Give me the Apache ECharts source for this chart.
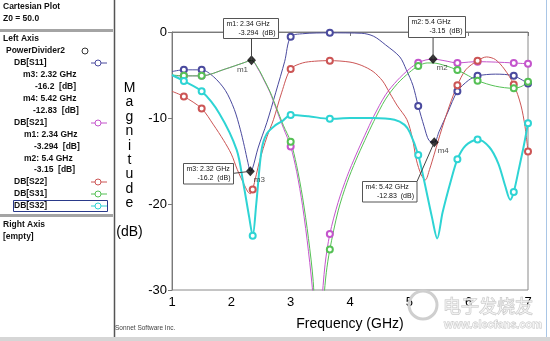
<!DOCTYPE html>
<html><head><meta charset="utf-8">
<script src="https://cdn.jsdelivr.net/npm/echarts@6/dist/echarts.min.js"></script>
<style>html,body{margin:0;padding:0;background:#fff}#c{width:550px;height:341px}</style>
</head><body><div id="c"></div>
<script>
// ---- data ----
const s11F = [1.0,1.2,1.5,1.7,1.9,2.05,2.15,2.22,2.28,2.32,2.36,2.45,2.6,2.75,2.9,3.0,3.2,3.66,4.2,4.4,4.6,4.84,4.95,5.06,5.15,5.25,5.33,5.42,5.5,5.65,5.81,6.0,6.15,6.45,6.76,7.0];
const s11V = [-4.6,-4.4,-4.4,-5.2,-6.8,-9.0,-11.3,-13.3,-15.2,-16.2,-15.8,-13.5,-10.5,-7.0,-3.4,-0.55,-0.2,-0.1,-0.15,-0.5,-1.5,-2.9,-4.4,-6.2,-8.6,-11.0,-12.6,-12.83,-11.6,-9.3,-6.9,-5.6,-5.1,-4.9,-5.1,-6.0];

const s21F = [1.0,1.2,1.5,1.9,2.2,2.34,2.45,2.55,2.65,2.76,2.88,3.0,3.1,3.2,3.3,3.38,3.45,3.52,3.58,3.66,3.8,3.95,4.1,4.25,4.4,4.6,4.8,5.0,5.15,5.28,5.4,5.6,5.81,6.0,6.15,6.45,6.76,7.0];
const s21V = [-5.1,-5.1,-5.1,-4.3,-3.6,-3.294,-4.3,-5.6,-7.0,-9.0,-11.2,-13.3,-16.2,-20.2,-25.5,-31,-40,-32,-27,-23.5,-19.8,-16.8,-14.3,-12.0,-9.8,-7.3,-5.6,-4.3,-3.57,-3.25,-3.15,-3.35,-3.6,-3.5,-3.45,-3.5,-3.6,-3.7];

const s22F = [1.0,1.2,1.5,1.7,1.87,2.0,2.1,2.2,2.28,2.32,2.36,2.48,2.6,2.71,2.85,3.0,3.2,3.4,3.66,4.0,4.2,4.39,4.55,4.67,4.8,4.96,5.05,5.12,5.2,5.27,5.34,5.42,5.55,5.68,5.81,5.95,6.15,6.3,6.45,6.6,6.76,6.88,6.95,7.0];
const s22V = [-6.9,-7.5,-8.9,-10.8,-12.6,-14.2,-16.0,-17.5,-18.6,-18.8,-18.3,-14.9,-12.2,-10.2,-7.0,-4.3,-3.6,-3.4,-3.33,-3.5,-3.9,-4.6,-5.7,-7.1,-8.6,-10.2,-12.3,-14.9,-16.6,-17.2,-16.0,-14.2,-11.2,-8.5,-6.2,-4.4,-3.33,-2.9,-3.2,-4.3,-6.1,-8.5,-11.0,-13.9];

const s31F = [1.0,1.2,1.5,1.9,2.2,2.34,2.45,2.55,2.65,2.76,2.88,3.0,3.1,3.2,3.3,3.38,3.47,3.56,3.6,3.66,3.8,3.95,4.1,4.25,4.4,4.6,4.8,5.0,5.15,5.3,5.4,5.6,5.81,6.0,6.15,6.45,6.76,6.9,7.0];
const s31V = [-5.0,-5.1,-5.1,-4.3,-3.6,-3.3,-4.2,-5.5,-6.9,-8.8,-10.9,-12.75,-15.5,-19.2,-24.0,-29.0,-40,-31,-28,-25.3,-20.8,-17.5,-14.9,-12.6,-10.4,-7.8,-6.0,-4.7,-3.95,-3.6,-3.6,-3.9,-4.42,-5.1,-5.66,-6.3,-6.55,-6.3,-5.78];

const s32F = [1.0,1.2,1.5,1.8,2.09,2.2,2.3,2.36,2.42,2.51,2.6,2.75,2.87,3.0,3.3,3.66,4.0,4.39,4.75,4.92,5.01,5.15,5.25,5.38,5.47,5.56,5.7,5.81,5.95,6.15,6.35,6.5,6.62,6.7,6.76,6.85,6.93,7.0];
const s32V = [-5.0,-5.7,-6.9,-9.5,-13.7,-17.5,-21.5,-23.7,-20.0,-13.7,-11.8,-10.8,-10.3,-9.65,-9.8,-10.1,-10.0,-10.0,-10.2,-10.8,-11.7,-14.3,-17.3,-21.5,-24.0,-21.0,-17.3,-14.8,-13.2,-12.5,-13.4,-15.3,-18.0,-19.5,-18.6,-15.8,-13.2,-10.6];

const simF = [1.2,1.5,2.36,3.0,3.66,5.15,5.81,6.15,6.76,7.0];
const xTicks = [1,2,3,4,5,6,7];
const yTicks = [0,-10,-20,-30];
const mNames = ['m1','m2','m3','m4'];
const mF = [2.34,5.4,2.32,5.42];
const mV = [-3.294,-3.15,-16.2,-12.83];
const mFText = ['2.34 GHz','5.4 GHz','2.32 GHz','5.42 GHz'];
const mVText = ['-3.294','-3.15','-16.2','-12.83'];
const seriesNames = ['DB[S11]','DB[S21]','DB[S22]','DB[S31]','DB[S32]'];
const colors = ['#4a4a9e','#c455cc','#cc5555','#55c055','#2ed4d4'];

// ---- chart ----
const chart = echarts.init(document.getElementById('c'), null, {renderer:'canvas'});
const FF = 'Liberation Sans, Arial, sans-serif';

function mkSeries(name, F, V, color, width, skip) {
  return {
    type:'line', name, smooth:0.3, animation:false, clip:true,
    lineStyle:{width, color}, symbolSize:6,
    itemStyle:{color:color, borderColor:color, borderWidth:1},
    data: F.map((f,i)=>({value:[f,V[i]],
      symbol:(simF.includes(f) && !skip.includes(f)) ? 'emptyCircle' : 'none'}))
  };
}
const series = [
  mkSeries(seriesNames[0], s11F, s11V, colors[0], 1, [2.36]),
  mkSeries(seriesNames[1], s21F, s21V, colors[1], 1, [2.36]),
  mkSeries(seriesNames[2], s22F, s22V, colors[2], 1, []),
  mkSeries(seriesNames[3], s31F, s31V, colors[3], 1, [2.36]),
  mkSeries(seriesNames[4], s32F, s32V, colors[4], 2, []),
];
const lblOff = [[-9,9],[9,9],[9,8],[9,8]];
series.push({
  type:'scatter', name:'markers', animation:false, z:10,
  symbol:'diamond', symbolSize:[9,10], itemStyle:{color:'#000'},
  data: mF.map((f,i)=>({value:[f,mV[i]], name:mNames[i],
    label:{show:true, position:'inside', offset:lblOff[i], formatter:mNames[i],
      fontSize:8, fontFamily:FF, color:'#222'}}))
});

chart.setOption({
  animation:false,
  grid:{left:172, right:22, top:32, bottom:51, show:true, borderColor:'#8a8a8a', borderWidth:1, backgroundColor:'#fff'},
  xAxis:{type:'value', min:xTicks[0], max:xTicks[xTicks.length-1], interval:1,
    axisLine:{lineStyle:{color:'#7a7a7a'}}, axisTick:{show:true, length:4, lineStyle:{color:'#7a7a7a'}},
    axisLabel:{fontSize:13, fontFamily:FF, color:'#000', margin:6},
    splitLine:{show:false}},
  yAxis:{type:'value', min:yTicks[yTicks.length-1], max:yTicks[0], interval:10,
    axisLine:{show:true, lineStyle:{color:'#7a7a7a'}}, axisTick:{show:true, length:4, lineStyle:{color:'#7a7a7a'}},
    axisLabel:{fontSize:13, fontFamily:FF, color:'#000', margin:5},
    splitLine:{show:false}},
  series
});

// ---- annotation boxes & decorations ----
const P = mF.map((f,i)=>chart.convertToPixel({gridIndex:0}, [f, mV[i]]));
const g = [];
const boxDef = [ // dx, dy of box top-left relative to marker, w, h
  [-28.5,-42.5,55,20],[-25.5,-43.5,57,21],[-67.5,-8.5,50,20.5],[-72.5,38.5,54.5,20.5]
];
boxDef.forEach((b,i)=>{
  const [px,py] = P[i];
  const x = Math.round(px+b[0])+0.5, y = Math.round(py+b[1])+0.5, w=b[2], h=b[3];
  // leader line
  let l;
  if (i<2) l = [px, y+h, px, py];
  else if (i===2) l = [x+w, py+2, px, py];
  else l = [x+w, y, px, py];
  g.push({type:'line', z:50, shape:{x1:l[0],y1:l[1],x2:l[2],y2:l[3]}, style:{stroke:'#444', lineWidth:1}});
  g.push({type:'rect', z:60, shape:{x, y, width:w, height:h}, style:{fill:'#fff', stroke:'#555', lineWidth:1}});
  g.push({type:'text', z:61, x:x+3, y:y+6, style:{text:mNames[i]+': '+mFText[i], fontSize:7, fontFamily:FF, fill:'#111', verticalAlign:'middle'}});
  g.push({type:'text', z:61, x:x+w-3, y:y+15, style:{text:mVText[i]+'  (dB)', fontSize:7, fontFamily:FF, fill:'#111', align:'right', verticalAlign:'middle'}});
});

// y axis name (stacked letters)
g.push({type:'text', z:5, x:129.5, y:81, style:{text:'M\na\ng\nn\ni\nt\nu\nd\ne\n\n(dB)', lineHeight:14.4, fontSize:14, fontFamily:FF, fill:'#000', align:'center'}});
// x axis name
g.push({type:'text', z:5, x:350, y:324, style:{text:'Frequency (GHz)', fontSize:14, fontFamily:FF, fill:'#000', align:'center', verticalAlign:'middle'}});
g.push({type:'text', z:5, x:115, y:328, style:{text:'Sonnet Software Inc.', fontSize:6.5, fontFamily:FF, fill:'#444', verticalAlign:'middle'}});

// left panel
g.push({type:'rect', z:1, shape:{x:0,y:0,width:113,height:337}, style:{fill:'#fff'}});
g.push({type:'line', z:2, shape:{x1:114.5,y1:0,x2:114.5,y2:337}, style:{stroke:'#555', lineWidth:1.5}});
g.push({type:'rect', z:2, shape:{x:0,y:29,width:113,height:3}, style:{fill:'#a4a4a4'}});
g.push({type:'rect', z:2, shape:{x:0,y:214,width:113,height:3}, style:{fill:'#a4a4a4'}});
const panel = [
  ['Cartesian Plot',3,7],['Z0 = 50.0',3,19],['Left Axis',3,39],['PowerDivider2',6,51],
  [seriesNames[0],14,63],['m3: 2.32 GHz',23,75],['-16.2  [dB]',35,87],['m4: 5.42 GHz',23,99],['-12.83  [dB]',33,111],
  [seriesNames[1],14,123],['m1: 2.34 GHz',24,135],['-3.294  [dB]',34,147],['m2: 5.4 GHz',24,159],['-3.15  [dB]',34,170],
  [seriesNames[2],14,182],[seriesNames[3],14,194],[seriesNames[4],14,206],['Right Axis',3,225],['[empty]',3,237]
];
panel.forEach(t=>g.push({type:'text', z:3, x:t[1], y:t[2], style:{text:t[0], fontSize:8.5, fontWeight:'bold', fontFamily:FF, fill:'#111', verticalAlign:'middle'}}));
g.push({type:'circle', z:3, shape:{cx:85, cy:51, r:3}, style:{fill:'#fff', stroke:'#333', lineWidth:1}});
const legY = [63,123,182,194,206];
legY.forEach((y,i)=>{
  g.push({type:'line', z:3, shape:{x1:91,y1:y,x2:107,y2:y}, style:{stroke:colors[i], lineWidth:1}});
  g.push({type:'circle', z:4, shape:{cx:98, cy:y, r:3}, style:{fill:'#fff', stroke:colors[i], lineWidth:1}});
});
g.push({type:'rect', z:4, shape:{x:13.5,y:200.5,width:94,height:11}, style:{fill:'none', stroke:'#2a3a8a', lineWidth:1}});

// window edges
g.push({type:'rect', z:1, shape:{x:0,y:337,width:550,height:4}, style:{fill:'#d6d6d6'}});
g.push({type:'line', z:1, shape:{x1:546.5,y1:0,x2:546.5,y2:337}, style:{stroke:'#a9c6e6', lineWidth:1}});

// watermark
g.push({type:'circle', z:70, shape:{cx:423, cy:305, r:14}, style:{fill:'none', stroke:'#cfcfcf', lineWidth:3}});
g.push({type:'text', z:70, x:443, y:306, style:{text:'电子发烧友', fontSize:18, fontFamily:'Noto Sans CJK SC', fill:'rgba(255,255,255,0.6)', stroke:'#c4c4c4', lineWidth:1, verticalAlign:'middle'}});
g.push({type:'text', z:70, x:444, y:325, style:{text:'www.elecfans.com', fontSize:11, fontWeight:'bold', fontFamily:FF, fill:'rgba(255,255,255,0.6)', stroke:'#c4c4c4', lineWidth:0.8, verticalAlign:'middle'}});

chart.setOption({graphic:g});
</script></body></html>
